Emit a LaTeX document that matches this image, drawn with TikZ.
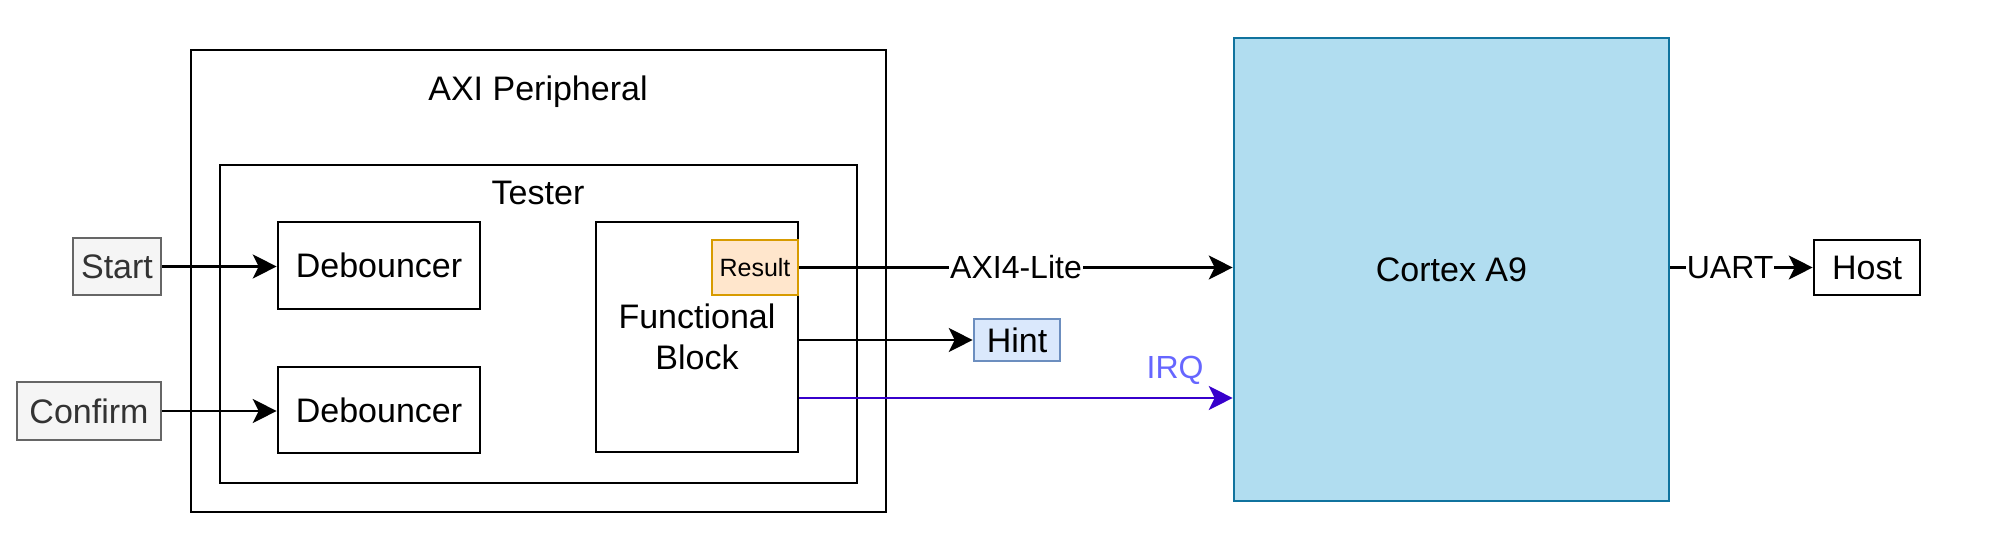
\documentclass[tikz,border=0pt]{standalone}
\usepackage{fontspec}
\setmainfont{Liberation Sans}
\usetikzlibrary{shapes,positioning,arrows.meta}

\definecolor{grayfill}{HTML}{F5F5F5}
\definecolor{grayline}{HTML}{666666}
\definecolor{graytext}{HTML}{333333}
\definecolor{resfill}{HTML}{FFE6CC}
\definecolor{resline}{HTML}{D79B00}
\definecolor{hintfill}{HTML}{DAE8FC}
\definecolor{hintline}{HTML}{6C8EBF}
\definecolor{cpufill}{HTML}{B1DDF0}
\definecolor{cpuline}{HTML}{10739E}
\definecolor{irqline}{HTML}{3700CC}
\definecolor{irqtext}{HTML}{6666FF}

\begin{document}
\begin{tikzpicture}[x=0.5pt, y=-0.5pt,
    blk/.style={draw=black, line width=1.3pt, inner sep=0pt, font=\fontsize{17}{20.5}\selectfont},
    pin/.style={blk, draw=grayline, fill=grayfill, text=graytext},
    lbl/.style={inner sep=0pt, font=\fontsize{17}{20.5}\selectfont},
    wire/.style={fill=white, inner sep=0.5pt, font=\fontsize{16}{19}\selectfont},
    arr/.style={line width=1.1pt, -{Stealth[length=12pt, width=12pt, inset=3pt]}}]

% Fix the page size
\useasboundingbox (0,0) rectangle (1993,556);

% Draw the outer boxes
\node[blk, minimum width=347.5pt, minimum height=231pt] (axi) at (538.5,281) {};
\node[lbl] (axititle) at (538,92) {AXI Peripheral};
\node[blk, minimum width=318.5pt, minimum height=159pt] (tester) at (538.5,324) {};
\node[lbl] (testertitle) at (538,193) {Tester};

% Draw the blocks inside the tester
\node[blk, minimum width=101pt, minimum height=43.5pt] (deb1) at (379,265.5) {Debouncer};
\node[blk, minimum width=101pt, minimum height=43pt] (deb2) at (379,410) {Debouncer};
\node[blk, minimum width=101pt, minimum height=115pt, align=center] (fb) at (697,337) {Functional\\Block};
\node[blk, draw=resline, fill=resfill, minimum width=43pt, minimum height=27.5pt,
    font=\fontsize{12.5}{15}\selectfont] (result) at (755,267.5) {Result};

% Draw the inputs
\node[pin, minimum width=44pt, minimum height=28.5pt] (start) at (117,266.5) {Start};
\node[pin, minimum width=72pt, minimum height=29pt] (confirm) at (89,411) {Confirm};

% Draw the processor and the outputs
\node[blk, draw=hintline, fill=hintfill, minimum width=43pt, minimum height=21pt] (hint) at (1017,340) {Hint};
\node[blk, draw=cpuline, fill=cpufill, minimum width=217.5pt, minimum height=231.5pt] (cortex) at (1451.5,269.5) {Cortex A9};
\node[blk, minimum width=53pt, minimum height=27.5pt] (host) at (1867,267.5) {Host};

% Draw the connections
\draw[arr] (start.east) -- (start.east -| deb1.west);
\draw[arr] (confirm.east) -- (confirm.east -| deb2.west);
\draw[arr] (result.east) -- (result.east -| cortex.west)
    node[wire, midway] {AXI4-Lite};
\draw[arr] (fb.east |- hint.west) -- (hint.west);

% IRQ line
\coordinate (irqout) at ([yshift=-30.5pt]fb.east);
\draw[arr, irqline] (irqout) -- (irqout -| cortex.west)
    node[anchor=south east, inner sep=0pt, xshift=-14pt, yshift=6pt, text=irqtext,
    font=\fontsize{16}{19}\selectfont] {IRQ};

% UART line
\draw[arr] (cortex.east |- host.west) -- (host.west)
    node[wire, pos=0.42] {UART};

\end{tikzpicture}
\end{document}
